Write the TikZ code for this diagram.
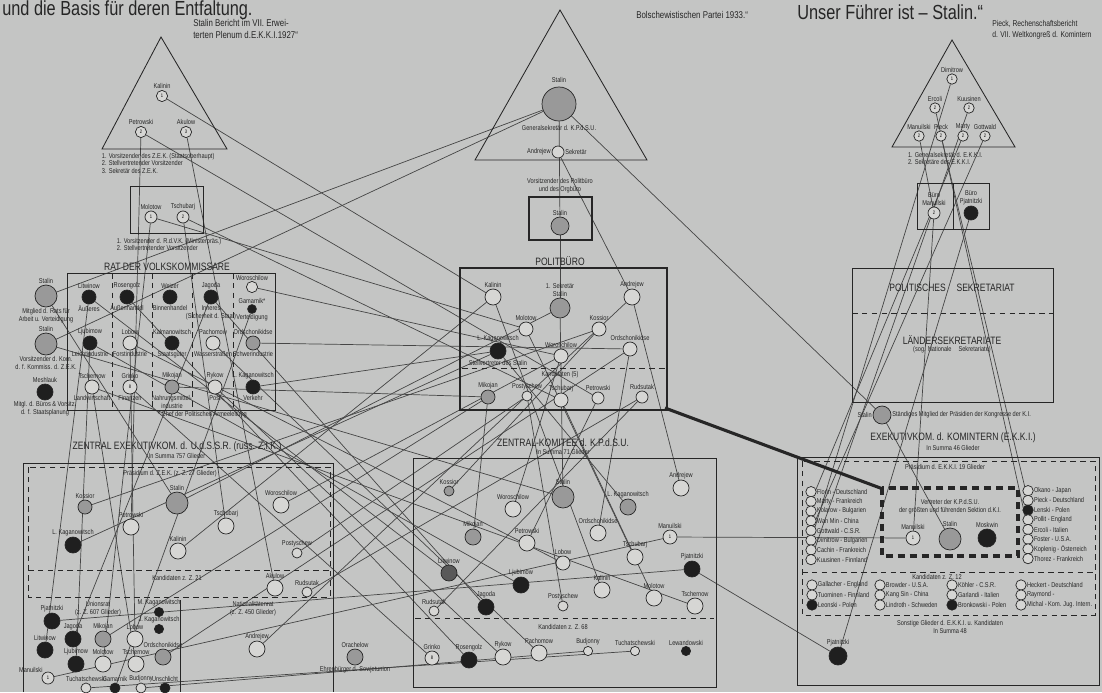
\documentclass[tikz,border=0pt]{standalone}
\usepackage{fontspec}
\setmainfont{Liberation Sans}[FakeStretch=0.8]
\usetikzlibrary{backgrounds}

\definecolor{paper}{RGB}{196,197,196}
\definecolor{paperlight}{RGB}{214,214,212}
\definecolor{ink}{RGB}{38,38,38}
\definecolor{lineink}{RGB}{70,70,70}

\newcommand{\tsz}{\fontsize{5}{5.6}\selectfont}
\newcommand{\ssz}{\fontsize{7}{8}\selectfont}
\newcommand{\srsz}{\fontsize{6}{7.4}\selectfont}
\newcommand{\hsz}{\fontsize{7.6}{8.4}\selectfont}
\newcommand{\bigsz}{\fontsize{14.5}{16}\selectfont}
\newcommand{\numsz}{\fontsize{3.6}{4}\selectfont}

\tikzset{
  person/.style={circle, draw=ink, line width=0.5pt, inner sep=0pt, minimum size=#1, font=\numsz},
  person/.default=3mm,
  openp/.style={person=#1, fill=paperlight},
  openp/.default=3mm,
  greyp/.style={person=#1, fill=black!40},
  greyp/.default=3.5mm,
  darkp/.style={person=#1, fill=black!88},
  darkp/.default=3.5mm,
  tag/.style={font=\tsz, inner sep=0.5pt, text=ink},
  head/.style={font=\hsz, inner sep=1pt, text=ink},
  frame/.style={draw=ink, line width=0.6pt},
  heavyframe/.style={draw=ink, line width=2pt},
  dashframe/.style={draw=ink, line width=0.6pt, dash pattern=on 4pt off 3pt},
  link/.style={draw=lineink, line width=0.5pt},
}

\begin{document}
\begin{tikzpicture}[x=0.025cm, y=-0.025cm]
\useasboundingbox (0,0) rectangle (1102,692);

% headlines
\node[font=\bigsz, anchor=west, inner sep=0pt, text=ink] (motto) at (2,10) {und die Basis für deren Entfaltung.};
\node[font=\ssz, anchor=west, align=left, inner sep=0pt, text=ink] (srcA) at (193,29) {Stalin Bericht im VII. Erwei-\\terten Plenum d.E.K.K.I.1927“};
\node[font=\ssz, anchor=west, inner sep=0pt, text=ink] (srcB) at (636,15) {Bolschewistischen Partei 1933.“};
\node[font=\bigsz, anchor=west, inner sep=0pt, text=ink] (fuehrer) at (797,12) {Unser Führer ist -- Stalin.“};
\node[font=\srsz, anchor=west, align=left, inner sep=0pt, text=ink] (srcC) at (992,30) {Pieck, Rechenschaftsbericht\\d. VII. Weltkongreß d. Komintern};

% state triangle
\draw[frame] (161,37) -- (102,149) -- (227,149) -- cycle;
\node[openp=2.8mm, label={[tag]above:Kalinin}] (tKal) at (162,96) {1};
\node[openp=2.8mm, label={[tag]above:Petrowski}] (tPet) at (141,132) {2};
\node[openp=2.8mm, label={[tag]above:Akulow}] (tAku) at (186,132) {3};
\node[tag, anchor=north west, align=left] (tNote) at (101,152) {1. Vorsitzender des Z.E.K. (Staatsoberhaupt)\\2. Stellvertretender Vorsitzender\\3. Sekretär des Z.E.K.};

\draw[frame] (130,186) rectangle (203,233);
\node[openp, label={[tag]above:Molotow}] (mMol) at (151,217) {1};
\node[openp, label={[tag]above:Tschubarj}] (mTsch) at (183,217) {2};
\node[tag, anchor=north west, align=left] (mNote) at (116,237) {1. Vorsitzender d. R.d.V.K. (Ministerpräs.)\\2. Stellvertretender Vorsitzender};

% party triangle
\draw[frame] (560,10) -- (475,160) -- (647,160) -- cycle;
\node[greyp=8.5mm, label={[tag, label distance=2pt]above:Stalin}] (cSta) at (559,104) {};
\node[tag] (cGen) at (559,128) {Generalsekretär d. K.P.d.S.U.};
\node[openp=3mm, label={[tag]left:Andrejew}, label={[tag]right:Sekretär}] (cAnd) at (558,152) {};
\node[tag, align=center] (cVors) at (560,186) {Vorsitzender des Politbüro\\und des Orgbüro};
\draw[heavyframe] (529,197) rectangle (592,240);
\node[greyp=4.5mm, label={[tag]above:Stalin}] (boxSta) at (560,226) {};

% komintern triangle
\draw[frame] (952,40) -- (892,147) -- (1015,147) -- cycle;
\node[openp=2.6mm, label={[tag]above:Dimitrow}] (tDim) at (952,79) {1};
\node[openp=2.6mm, label={[tag]above:Ercoli}] (tErc) at (935,108) {2};
\node[openp=2.6mm, label={[tag]above:Kuusinen}] (tKuu) at (969,108) {2};
\node[openp=2.6mm, label={[tag]above:Manuilski}] (tMan) at (919,136) {2};
\node[openp=2.6mm, label={[tag]above:Pieck}] (tPie) at (941,136) {2};
\node[openp=2.6mm, label={[tag]above:Marty}] (tMar) at (963,136) {2};
\node[openp=2.6mm, label={[tag]above:Gottwald}] (tGot) at (985,136) {2};
\node[tag, anchor=north west, align=left] (kNote) at (907,151) {1. Generalsekretär d. E.K.K.I.\\2. Sekretäre des E.K.K.I.};
\draw[frame] (917,183) rectangle (989,229);
\draw[frame] (953,183) -- (953,229);
\node[openp, label={[tag, align=center]above:Büro\\Manuilski}] (bMan) at (934,213) {2};
\node[darkp, label={[tag, align=center]above:Büro\\Pjatnitzki}] (bPja) at (971,213) {};

% Rat der Volkskommissare
\node[head] (ratHead) at (167,267) {RAT DER VOLKSKOMMISSARE};
\draw[frame] (67,273) rectangle (275,410);
\foreach \x in {112,152,192,233}
  \draw[dashframe] (\x,273) -- (\x,410);
\node[greyp=5.5mm, label={[tag]above:Stalin}, label={[tag, align=center]below:Mitglied d. Rats für\\Arbeit u. Verteidigung}] (rSta1) at (46,296) {};
\node[greyp=5.5mm, label={[tag]above:Stalin}, label={[tag, align=center]below:Vorsitzender d. Kom.\\d. f. Kommiss. d. Z.E.K.}] (rSta2) at (46,344) {};
\node[darkp=4mm, label={[tag]above:Meshlauk}, label={[tag, align=center]below:Mitgl. d. Büros \& Vorsitz.\\d. f. Staatsplanung}] (rMez) at (45,392) {};
\node[darkp, label={[tag]above:Litwinow}, label={[tag]below:Äußeres}] (rLit) at (89,297) {};
\node[darkp, label={[tag]above:Rosengolz}, label={[tag]below:Außenhandel}] (rRos) at (127,297) {};
\node[darkp, label={[tag]above:Weizer}, label={[tag]below:Binnenhandel}] (rWei) at (170,297) {};
\node[darkp, label={[tag]above:Jagoda}, label={[tag, align=center]below:Inneres\\(Sicherheit d. Staat)}] (rJag) at (211,297) {};
\node[openp=2.8mm, label={[tag]above:Woroschilow}] (rWor) at (252,287) {};
\node[darkp=2.2mm, label={[tag]above:Gamarnik*}, label={[tag]below:Verteidigung}] (rGam) at (252,309) {};
\node[darkp, label={[tag]above:Ljubimow}, label={[tag]below:Leichtindustrie}] (rLju) at (90,343) {};
\node[openp=3.5mm, label={[tag]above:Lobow}, label={[tag]below:Forstindustrie}] (rLob) at (130,343) {};
\node[darkp, label={[tag]above:Kalmanowitsch}, label={[tag]below:Staatsgüter}] (rKal) at (172,343) {};
\node[openp=3.5mm, label={[tag]above:Pachomow}, label={[tag]below:Wasserstraßen}] (rPach) at (213,343) {};
\node[greyp, label={[tag]above:Ordschonikidse}, label={[tag]below:Schwerindustrie}] (rOrd) at (253,343) {};
\node[openp=3.5mm, label={[tag]above:Tschernow}, label={[tag]below:Landwirtschaft}] (rTsch) at (92,387) {};
\node[openp=3.5mm, label={[tag]above:Grinko}, label={[tag]below:Finanzen}] (rGri) at (130,387) {8};
\node[greyp, label={[tag]above:Mikojan}, label={[tag, align=center]below:Nahrungsmittel-\\industrie}] (rMik) at (172,387) {};
\node[openp=3.5mm, label={[tag]above:Rykow}, label={[tag]below:Post}] (rRyk) at (215,387) {};
\node[darkp, label={[tag]above:L. Kaganowitsch}, label={[tag]below:Verkehr}] (rKag) at (253,387) {};
\node[tag, anchor=west] (ratNote) at (157,415) {* Chef der Politischen Armeeleitung};

% Politbuero
\node[head] (pbHead) at (560,261) {POLITBÜRO};
\draw[heavyframe] (460,268) rectangle (667,410);
\node[openp=4mm, label={[tag]above:Kalinin}] (pbKal) at (493,297) {};
\node[greyp=5mm, label={[tag, align=center]above:1. Sekretär\\Stalin}] (pbSta) at (560,308) {};
\node[openp=4mm, label={[tag]above:Andrejew}] (pbAnd) at (632,297) {};
\node[openp=3.5mm, label={[tag]above:Molotow}] (pbMol) at (526,329) {};
\node[openp=3.5mm, label={[tag]above:Kossior}] (pbKos) at (599,329) {};
\node[darkp=4mm, label={[tag]above:L. Kaganowitsch}, label={[tag]below:Stellvertreter des Stalin}] (pbKag) at (498,351) {};
\node[openp=3.5mm, label={[tag]above:Woroschilow}] (pbWor) at (561,356) {};
\node[openp=3.5mm, label={[tag]above:Ordschonikidse}] (pbOrd) at (630,349) {};
\draw[dashframe] (462,368) -- (665,368);
\node[tag] (pbKand) at (560,375) {Kandidaten (5)};
\node[greyp, label={[tag]above:Mikojan}] (pbMik) at (488,397) {};
\node[openp=2.5mm, label={[tag]above:Postyschew}] (pbPos) at (527,396) {};
\node[openp=3.5mm, label={[tag]above:Tschubarj}] (pbTsch) at (561,400) {};
\node[openp=3mm, label={[tag]above:Petrowski}] (pbPet) at (598,398) {};
\node[openp=3mm, label={[tag]above:Rudsutak}] (pbRud) at (642,397) {};

% Politisches Sekretariat
\draw[frame] (852,268) rectangle (1053,402);
\draw[dashframe] (852,313) -- (1053,313);
\node[head] (psHead) at (952,288) {POLITISCHES\quad SEKRETARIAT};
\node[head] (lsHead) at (952,340) {LÄNDERSEKRETARIATE};
\node[tag] (lsSub) at (952,350) {(sog. Nationale\quad Sekretariate)};
\node[greyp=4.5mm, label={[tag]left:Stalin}, label={[tag]right:Ständiges Mitglied der Präsidien der Kongresse der K.I.}] (psSta) at (882,415) {};

% E.K.K.I.
\node[head] (ekHead) at (953,438) {EXEKUTIVKOM. d. KOMINTERN (E.K.K.I.)};
\node[tag] (ekSum) at (953,448) {In Summa 46 Glieder};
\draw[frame] (797,457) rectangle (1099,685);
\draw[dashframe] (802,461) rectangle (1095,615);
\draw[dashframe] (802,572) -- (1095,572);
\node[tag] (ekPraes) at (945,467) {Präsidium d. E.K.K.I. 19 Glieder};
\draw[draw=ink, line width=2.4pt, dash pattern=on 5pt off 3.5pt] (882,488) rectangle (1018,556);
\node[tag, align=center] (ekVert) at (950,507) {Vertreter der K.P.d.S.U.\\der größten und führenden Sektion d.K.I.};
\node[openp=3.5mm, label={[tag]above:Manuilski}] (ekMan) at (913,538) {1};
\node[greyp=5.5mm, label={[tag]above:Stalin}] (ekSta) at (950,539) {};
\node[darkp=4.5mm, label={[tag]above:Moskwin}] (ekMos) at (987,538) {};
\foreach \nm/\fc [count=\i] in {Florin - Deutschland/paperlight, Marty - Frankreich/paperlight,
    Kolarow - Bulgarien/paperlight, Wan Min - China/paperlight, Gottwald - C.S.R./paperlight,
    Dimitrow - Bulgarien/paperlight, Cachin - Frankreich/paperlight, Kuusinen - Finnland/paperlight} {
  \node[person=2.6mm, fill=\fc] (ekL\i) at (811,{482+9.7*\i}) {};
  \node[tag, anchor=west] at (816,{482+9.7*\i}) {\nm};
}
\foreach \nm/\fc [count=\i] in {Okano - Japan/paperlight, Pieck - Deutschland/paperlight,
    Lenski - Polen/black!88, Pollit - England/paperlight, Ercoli - Italien/paperlight,
    Foster - U.S.A./paperlight, Koplenig - Österreich/paperlight, Thorez - Frankreich/paperlight} {
  \node[person=2.6mm, fill=\fc] (ekR\i) at (1028,{481+9.7*\i}) {};
  \node[tag, anchor=west] at (1033,{481+9.7*\i}) {\nm};
}
\node[tag] (ekKand) at (937,577) {Kandidaten z. Z. 12};
\foreach \nm/\fc/\x/\y in {Gallacher - England/paperlight/812/585, Tuominen - Finnland/paperlight/812/595,
    Leonski - Polen/black!88/812/605, Browder - U.S.A./paperlight/880/585,
    Kang Sin - China/paperlight/880/595, Lindroth - Schweden/paperlight/880/605,
    Köhler - C.S.R./paperlight/952/585, Garlandi - Italien/paperlight/952/595,
    Bronkowski - Polen/black!88/952/605, Heckert - Deutschland/paperlight/1021/585,
    Raymond -/paperlight/1021/595, Michal - Kom. Jug. Intern./paperlight/1021/605} {
  \node[person=2.6mm, fill=\fc] (ekK\x\y) at (\x,\y) {};
  \node[tag, anchor=west] at (\x+5,\y) {\nm};
}
\node[tag, align=center] (ekSonst) at (950,627) {Sonstige Glieder d. E.K.K.I. u. Kandidaten\\In Summa 48};
\node[darkp=4.5mm, label={[tag]above:Pjatnitzki}] (ekPja) at (838,656) {};

% Zentral-Exekutivkomitee
\node[head] (zeHead) at (177,447) {ZENTRAL EXEKUTIVKOM. d. U.d.S.S.R. (russ. Z.I.K.)};
\node[tag] (zeSum) at (177,456) {In Summa 757 Glieder};
\draw[frame] (23,692) -- (23,463) -- (333,463) -- (333,692);
\draw[dashframe] (28,467) rectangle (330,597);
\draw[dashframe] (28,570) -- (330,570);
\node[tag] (zePraes) at (170,474) {Präsidium d. Z.E.K. (z. Z. 27 Glieder)};
\node[greyp, label={[tag]above:Kossior}] (zeKos) at (85,507) {};
\node[greyp=5.5mm, label={[tag]above:Stalin}] (zeSta) at (177,503) {};
\node[openp=4mm, label={[tag]above:Woroschilow}] (zeWor) at (281,505) {};
\node[openp=4mm, label={[tag]above:Petrowski}] (zePet) at (131,527) {};
\node[openp=4mm, label={[tag]above:Tschubarj}] (zeTsch) at (226,526) {};
\node[darkp=4mm, label={[tag]above:L. Kaganowitsch}] (zeKag) at (73,545) {};
\node[openp=4mm, label={[tag]above:Kalinin}] (zeKal) at (178,551) {};
\node[openp=2.5mm, label={[tag]above:Postyschew}] (zePos) at (297,553) {};
\node[tag] (zeKand) at (177,578) {Kandidaten z. Z. 21};
\node[openp=4mm, label={[tag]above:Akulow}] (zeAku) at (275,588) {};
\node[openp=2.5mm, label={[tag]above:Rudsutak}] (zeRud) at (307,592) {};
\draw[frame] (180,600) -- (180,692);
\node[tag, align=center] (zeUnion) at (98,609) {Unionsrat\\(z. Z. 607 Glieder)};
\node[tag, align=center] (zeNat) at (253,609) {Nationalitätenrat\\(z. Z. 450 Glieder)};
\node[darkp=4mm, label={[tag]above:Pjatnitzki}] (zePja) at (52,621) {};
\node[darkp=2.3mm, label={[tag]above:M. Kaganowitsch}] (zeMKag) at (159,612) {};
\node[darkp=2.3mm, label={[tag]above:J. Kaganowitsch}] (zeJKag) at (159,629) {};
\node[darkp=4mm, label={[tag]above:Jagoda}] (zeJag) at (73,639) {};
\node[greyp=4mm, label={[tag]above:Mikojan}] (zeMik) at (103,639) {};
\node[openp=4mm, label={[tag]above:Lobow}] (zeLob) at (135,639) {};
\node[darkp=4mm, label={[tag]above:Litwinow}] (zeLit) at (45,650) {};
\node[greyp=4mm, label={[tag]above:Ordschonikidse}] (zeOrd) at (163,657) {};
\node[openp=4mm, label={[tag]above:Andrejew}] (zeAnd) at (257,649) {};
\node[darkp=4mm, label={[tag]above:Ljubimow}] (zeLju) at (76,664) {};
\node[openp=4mm, label={[tag]above:Molotow}] (zeMol) at (103,664) {};
\node[openp=4mm, label={[tag]above:Tschernow}] (zeTsche) at (136,664) {};
\node[openp=3mm, label={[tag]above left:Manuilski}] (zeMan) at (48,678) {1};
\node[openp=2.5mm, label={[tag]above:Tuchatschewski}] (zeTuch) at (86,688) {};
\node[darkp=2.5mm, label={[tag]above:Gamarnik}] (zeGam) at (115,688) {};
\node[openp=2.5mm, label={[tag]above:Budjonny}] (zeBud) at (141,688) {};
\node[darkp=2.5mm, label={[tag]above:Unschlicht}] (zeUns) at (165,688) {};
\node[greyp=4mm, label={[tag]above:Orachelow}, label={[tag]below:Ehrenbürger d. Sowjetunion}] (oOra) at (355,657) {};

% Zentral-Komitee
\node[head] (zkHead) at (563,443) {ZENTRAL-KOMITEE d. K.P.d.S.U.};
\node[tag] (zkSum) at (563,452) {In Summa 71 Glieder};
\draw[frame] (413,458) rectangle (716,687);
\draw[dashframe] (415,618) -- (714,618);
\node[tag] (zkKand) at (563,627) {Kandidaten z. Z. 68};
\node[greyp=2.5mm, label={[tag]above:Kossior}] (zkKos) at (449,491) {};
\node[greyp=5.5mm, label={[tag]above:Stalin}] (zkSta) at (563,497) {};
\node[openp=4mm, label={[tag]above:Andrejew}] (zkAnd) at (681,488) {};
\node[greyp=4mm, label={[tag]above:L. Kaganowitsch}] (zkKag) at (628,507) {};
\node[openp=4mm, label={[tag]above:Woroschilow}] (zkWor) at (513,509) {};
\node[greyp=4mm, label={[tag]above:Mikojan}] (zkMik) at (473,537) {};
\node[openp=4mm, label={[tag]above:Petrowski}] (zkPet) at (527,543) {};
\node[openp=4mm, label={[tag]above:Ordschonikidse}] (zkOrd) at (598,533) {};
\node[openp=3.5mm, label={[tag]above:Manuilski}] (zkMan) at (670,537) {1};
\node[openp=4mm, label={[tag]above:Tschubarj}] (zkTsch) at (635,557) {};
\node[openp=3.5mm, label={[tag]above:Lobow}] (zkLob) at (563,563) {};
\node[darkp=4mm, label={[tag]above:Pjatnitzki}] (zkPja) at (692,569) {};
\node[greyp=4mm, fill=black!65, label={[tag]above:Litwinow}] (zkLit) at (449,573) {};
\node[darkp=4mm, label={[tag]above:Ljubimow}] (zkLju) at (521,585) {};
\node[openp=4mm, label={[tag]above:Kalinin}] (zkKal) at (602,590) {};
\node[openp=4mm, label={[tag]above:Molotow}] (zkMol) at (654,598) {};
\node[openp=4mm, label={[tag]above:Tschernow}] (zkTsche) at (695,606) {};
\node[openp=2.5mm, label={[tag]above:Rudsutak}] (zkRud) at (434,611) {};
\node[darkp=4mm, label={[tag]above:Jagoda}] (zkJag) at (486,607) {};
\node[openp=2.5mm, label={[tag]above:Postyschew}] (zkPos) at (563,606) {};
\node[openp=3.5mm, label={[tag]above:Grinko}] (zkGri) at (432,658) {8};
\node[darkp=4mm, label={[tag]above:Rosengolz}] (zkRos) at (469,660) {};
\node[openp=4mm, label={[tag]above:Rykow}] (zkRyk) at (503,657) {};
\node[openp=4mm, label={[tag]above:Pachomow}] (zkPach) at (539,653) {};
\node[openp=2.3mm, label={[tag]above:Budjonny}] (zkBud) at (588,651) {};
\node[openp=2.3mm, label={[tag]above:Tuchatschewski}] (zkTuch) at (635,651) {};
\node[darkp=2.3mm, label={[tag]above:Lewandowski}] (zkLew) at (686,651) {};

% heavy link Politbuero -- Komintern delegation
\coordinate (pbCorner) at (665,408);
\coordinate (ekCorner) at (883,489);
\draw[ink, line width=2.2pt] (pbCorner) -- (ekCorner);

\begin{scope}[on background layer]
\fill[paper] (0,0) rectangle (1102,692);
\foreach \a/\b in {tKal/pbKal, pbKal/zeKal, pbKal/zkKal,
    tPet/pbPet, tPet/zePet, pbPet/zkPet, tAku/zeAku,
    mMol/pbMol, mMol/zeMol, pbMol/zkMol, mTsch/pbTsch, mTsch/zeTsch, pbTsch/zkTsch,
    cSta/rSta1, cSta/rSta2, cSta/boxSta, boxSta/pbSta, cSta/psSta, pbSta/zeSta, pbSta/zkSta,
    psSta/ekSta, rSta1/zeSta, rSta2/zkSta,
    cAnd/pbAnd, pbAnd/zkAnd, pbAnd/zeAnd,
    rKag/pbKag, pbKag/zeKag, pbKag/zkKag, rWor/pbWor, pbWor/zeWor, pbWor/zkWor,
    rOrd/pbOrd, pbOrd/zeOrd, pbOrd/zkOrd, rMik/pbMik, pbMik/zeMik, pbMik/zkMik,
    pbKos/zeKos, pbKos/zkKos, pbPos/zePos, pbPos/zkPos, pbRud/zeRud, pbRud/zkRud,
    tMan/bMan, bMan/ekMan, ekMan/zkMan, zkMan/zeMan,
    bPja/ekPja, ekPja/zkPja, zkPja/zePja,
    rLit/zeLit, rLit/zkLit, rRos/zkRos, rJag/zeJag, rJag/zkJag,
    rLju/zeLju, rLju/zkLju, rLob/zeLob, rLob/zkLob, rTsch/zeTsche, rTsch/zkTsche,
    rGri/zkGri, rRyk/zkRyk, rPach/zkPach,
    tDim/ekL6, tKuu/ekL8, tMar/ekL2, tGot/ekL5, tPie/ekR2, tErc/ekR5,
    zeBud/zkBud, zeTuch/zkTuch, rGam/zeGam}
  \draw[link] (\a) -- (\b);
\end{scope}
\end{tikzpicture}
\end{document}
